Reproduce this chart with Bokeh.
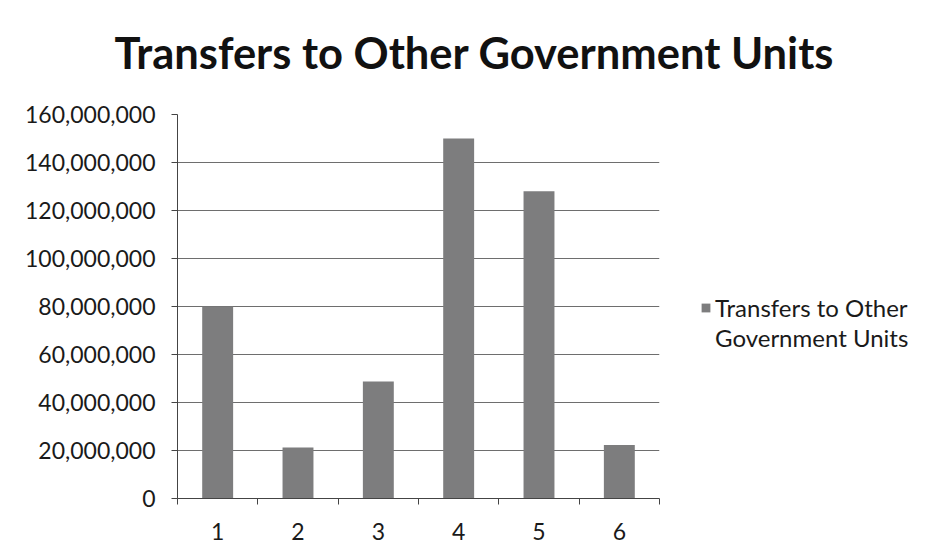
from bokeh.plotting import figure
from bokeh.models import (Range1d, FixedTicker, NumeralTickFormatter,
                          Legend, LegendItem, ColumnDataSource, Title)
from bokeh.embed import file_html
from bokeh.resources import INLINE

# ---- data -------------------------------------------------------------
categories = [1, 2, 3, 4, 5, 6]
transfers = [80_000_000, 21_300_000, 48_700_000, 150_000_000, 128_000_000, 22_300_000]
y_ticks = [0, 20_000_000, 40_000_000, 60_000_000, 80_000_000,
           100_000_000, 120_000_000, 140_000_000, 160_000_000]
chart_title = "Transfers to Other Government Units"
legend_line1 = "Transfers to Other"
legend_line2 = "Government Units"

# ---- styling ----------------------------------------------------------
FONT = "Lato"
TEXT_COLOR = "#1a1a1a"
BAR_COLOR = "#7d7d7e"
GRID_COLOR = "#6e6e6e"

p = figure(title=None, frame_width=482, frame_height=384,
           output_backend="svg", toolbar_location=None,
           x_range=Range1d(0.5, 6.5), y_range=Range1d(0, 160_000_000),
           min_border_left=177, min_border_right=271,
           min_border_top=114, min_border_bottom=60)

src = ColumnDataSource(dict(x=categories, top=transfers))
bars = p.vbar(x="x", top="top", width=0.385, bottom=0, source=src,
              fill_color=BAR_COLOR, line_color=None)

p.outline_line_color = None
p.background_fill_color = "white"
p.border_fill_color = "white"

# title (a small blank spacer sits between the title and the plot area)
p.add_layout(Title(text=" ", text_font_size="10px", standoff=19), "above")
p.add_layout(Title(text=chart_title, align="left", offset=-63,
                   text_font=FONT, text_font_style="bold",
                   text_font_size="43.5px", text_color="#111111",
                   vertical_align="bottom", standoff=10), "above")

# x axis
p.xaxis.ticker = FixedTicker(ticks=categories,
                             minor_ticks=[c - 0.5 for c in categories] + [categories[-1] + 0.5])
p.xaxis.major_tick_out = 0
p.xaxis.major_tick_in = 0
p.xaxis.minor_tick_out = 6
p.xaxis.minor_tick_in = 0
p.xaxis.minor_tick_line_color = "#444444"
p.xaxis.axis_line_color = "#444444"
p.xaxis.major_label_standoff = 18
p.xaxis.major_label_text_font = FONT
p.xaxis.major_label_text_font_size = "23px"
p.xaxis.major_label_text_color = TEXT_COLOR
p.xgrid.grid_line_color = None

# y axis
p.yaxis.ticker = FixedTicker(ticks=y_ticks)
p.yaxis.formatter = NumeralTickFormatter(format="0,0")
p.yaxis.major_tick_out = 6
p.yaxis.major_tick_in = 0
p.yaxis.minor_tick_line_color = None
p.yaxis.axis_line_color = "#444444"
p.yaxis.major_tick_line_color = "#444444"
p.yaxis.major_label_standoff = 16
p.yaxis.major_label_text_font = FONT
p.yaxis.major_label_text_font_size = "23px"
p.yaxis.major_label_text_color = TEXT_COLOR
p.ygrid.ticker = FixedTicker(ticks=y_ticks)
p.ygrid.grid_line_color = GRID_COLOR
p.ygrid.grid_line_width = 1

# legend
legend = Legend(items=[LegendItem(label=legend_line1, renderers=[bars]),
                       LegendItem(label=legend_line2, renderers=[])],
                location=(41, 146), orientation="vertical",
                background_fill_alpha=0, border_line_color=None,
                label_text_font=FONT, label_text_font_size="24px",
                label_text_color=TEXT_COLOR, glyph_width=11, glyph_height=11,
                label_standoff=4, spacing=1, padding=0, margin=0)
p.add_layout(legend, "right")

open("out.html", "w").write(file_html(p, INLINE))
